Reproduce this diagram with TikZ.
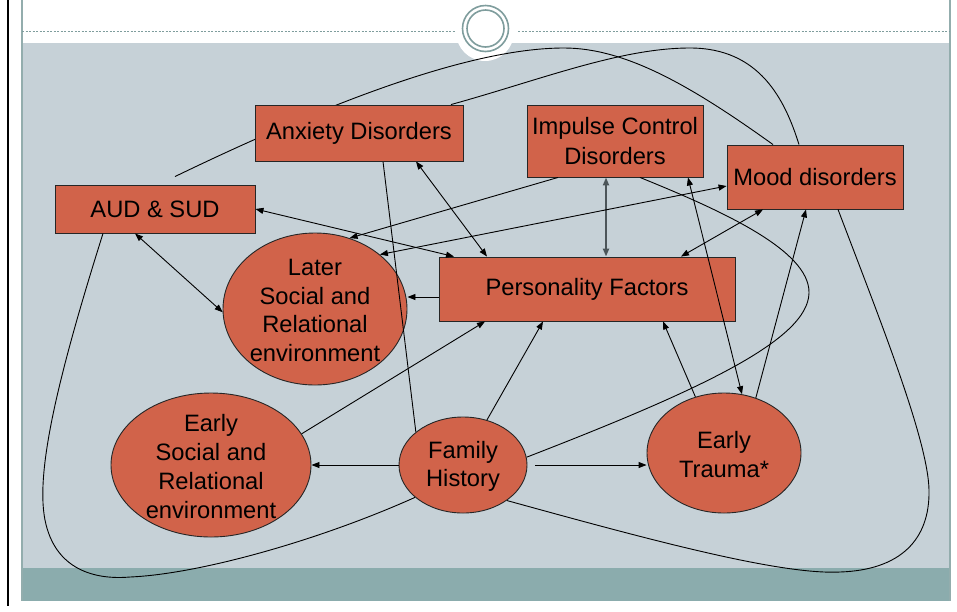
\documentclass[tikz,border=0pt]{standalone}
\usepackage{fontspec}
\setmainfont{Liberation Sans}
\usetikzlibrary{shapes.geometric,arrows.meta}

\pgfdeclarelayer{back}
\pgfdeclarelayer{links}
\pgfsetlayers{back,links,main}

\definecolor{slidebg}{HTML}{C6D1D7}
\definecolor{band}{HTML}{8BACAD}
\definecolor{frame}{HTML}{93ADAD}
\definecolor{ring}{HTML}{7F9D9D}
\definecolor{boxfill}{HTML}{D1634A}
\definecolor{stem}{HTML}{4C5559}

\newcommand\diagfont{\fontsize{23.7}{28.7}\selectfont}

\tikzset{
  box/.style={draw=black!85, line width=0.9pt, fill=boxfill, rectangle,
    inner sep=0pt, align=center, font=\diagfont},
  blob/.style={draw=black!85, line width=0.9pt, fill=boxfill, ellipse,
    inner sep=0pt},
  blobtext/.style={font=\diagfont, align=center, yshift=-1.5pt},
  link/.style={draw=black, line width=0.9pt},
  tip/.tip={Triangle[length=8pt,width=6pt]},
  arr/.style={link, -tip},
  biarr/.style={link, tip-tip},
}

\begin{document}
\begin{tikzpicture}[x=1pt, y=-1pt]
\useasboundingbox (0,0) rectangle (957,611);

\begin{pgfonlayer}{back}
  % slide background
  \fill[white] (0,0) rectangle (957,611);
  \fill[slidebg] (22,43) rectangle (950,568);
  \fill[band] (22,568) rectangle (950,601);
  \draw[frame, line width=1.5pt] (22,0) -- (22,601);
  \draw[frame, line width=1.5pt] (950,0) -- (950,601);
  \draw[black, line width=2.6pt] (8,0) -- (8,606);
  \draw[ring, line width=1pt, dash pattern=on 2pt off 1.5pt] (22,31) -- (455,31);
  \draw[ring, line width=1pt, dash pattern=on 2pt off 1.5pt] (518,31) -- (950,31);
  % title ornament
  \fill[white] (485,32) circle [radius=29];
  \draw[ring, line width=1.6pt] (485.5,28.5) circle [radius=23];
  \draw[ring, line width=1.6pt] (485.5,28.5) circle [radius=18.5];

  % nodes drawn beneath the connectors
  \node[box, minimum width=200pt, minimum height=48pt] (aud) at (155,209) {\raisebox{-1.5pt}{AUD \& SUD}};
  \node[box, minimum width=176pt, minimum height=72pt] (imp) at (615,141) {Impulse Control\\[0.8pt]Disorders};
  \node[box, minimum width=176pt, minimum height=64pt] (mood) at (815,177) {\raisebox{-1.5pt}{Mood disorders}};
  \node[box, minimum width=296pt, minimum height=64pt] (pers) at (587,289) {\raisebox{-1.5pt}{Personality Factors}};
  \node[blob, minimum width=184pt, minimum height=152pt,
        label={[blobtext]center:Later\\Social and\\Relational\\environment}] (later) at (315,309) {};
  \node[blob, minimum width=200pt, minimum height=144pt,
        label={[blobtext]center:Early\\Social and\\Relational\\environment}] (early) at (211,465) {};
  \node[blob, minimum width=128pt, minimum height=96pt,
        label={[blobtext]center:Family\\History}] (fam) at (463,465) {};
  \node[blob, minimum width=154pt, minimum height=120pt,
        label={[blobtext]center:Early\\Trauma*}] (trauma) at (724,453) {};
\end{pgfonlayer}

% this box sits above the connectors that pass behind it
\node[box, minimum width=208pt, minimum height=56pt] (anx) at (359,133) {\raisebox{-1.5pt}{Anxiety Disorders}};

\begin{pgfonlayer}{links}
  \coordinate (atail) at ([xshift=20pt,yshift=8pt]aud.north);
  \coordinate (pl) at ([yshift=-8pt]pers.west);

  % straight arrows
  \draw[arr] (fam.west) -- (early.east);
  \draw[arr] ([xshift=8pt]fam.east) -- (fam.east -| trauma.west);
  \draw[arr] (fam.62) -- ([xshift=-44pt]pers.south);
  \draw[arr] (early.19) -- ([xshift=-102pt]pers.south);
  \draw[arr] (trauma.117) -- ([xshift=76pt]pers.south);
  \draw[arr] (trauma.60) -- ([xshift=-9pt]mood.south);
  \draw[biarr] ([xshift=73pt]imp.south) -- (trauma.73);
  \draw[biarr, draw=stem, line width=2pt] ([xshift=-9pt]imp.south) -- ([xshift=19pt]pers.north);
  \draw[biarr] ([xshift=-52pt]mood.south) -- ([xshift=94pt]pers.north);
  \draw[biarr] ([xshift=57pt]anx.south) -- ([xshift=-100pt]pers.north);
  \draw[biarr] (aud.east) -- ([xshift=-133pt]pers.north);
  \draw[arr] ([xshift=-57pt]imp.south) -- (later.64);
  \draw[biarr] ([yshift=-9pt]mood.west) -- (later.40);
  \draw[arr] (pl) -- (pl -| later.east);
  \draw[biarr] ([xshift=-20pt]aud.south) -- (later.182);

  % plain links
  \draw[link] ([xshift=24pt]anx.south) -- (fam.145);
  \draw[link] (atail) .. controls (350,92) and (480,48) .. (564,48)
              .. controls (625,48) and (690,85) .. ([xshift=-42pt]mood.north);
  \draw[link] ([xshift=92pt]anx.north) .. controls (540,80) and (620,48) .. (690,48)
              .. controls (760,48) and (785,100) .. ([xshift=-16pt]mood.north);
  \draw[link] ([xshift=-52pt]aud.south) .. controls (60,370) and (35,470) .. (45,520)
              .. controls (55,570) and (95,580) .. (130,577)
              .. controls (200,574) and (320,540) .. (fam.214);
  \draw[link] (fam.321) .. controls (650,540) and (780,575) .. (840,572)
              .. controls (900,570) and (930,540) .. (929,490)
              .. controls (928,440) and (880,320) .. ([xshift=23pt]mood.south);
  \draw[link] ([xshift=25pt]imp.south) .. controls (720,210) and (810,250) .. (809,293)
              .. controls (808,340) and (700,390) .. (fam.7);
\end{pgfonlayer}
\end{tikzpicture}
\end{document}
